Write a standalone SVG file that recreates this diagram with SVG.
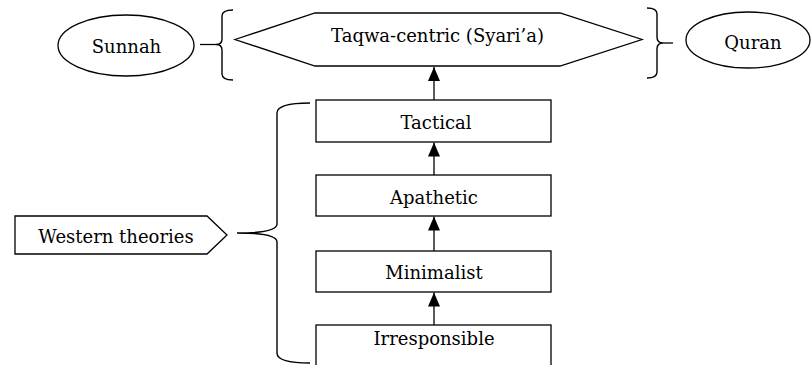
<svg xmlns="http://www.w3.org/2000/svg" width="811" height="365" viewBox="0 0 811 365">
<style>
.s{fill:#fff;stroke:#000;stroke-width:1.3}
.b{fill:none;stroke:#000;stroke-width:1.4}
.l{fill:none;stroke:#000;stroke-width:1.3}
text{font-family:"DejaVu Serif",serif;font-size:18px;fill:#000;text-anchor:middle}
</style>
<defs>
<marker id="ah" markerUnits="userSpaceOnUse" markerWidth="14" markerHeight="12" viewBox="0 0 14 12" refX="14" refY="6" orient="auto">
<path d="M0,0 L14,6 L0,12 Z" fill="#000"/>
</marker>
</defs>
<g id="connectors">
<path class="l" d="M434,100 V67" marker-end="url(#ah)"/>
<path class="l" d="M434,175 V142.5" marker-end="url(#ah)"/>
<path class="l" d="M434,251 V216.5" marker-end="url(#ah)"/>
<path class="l" d="M434,325 V292.5" marker-end="url(#ah)"/>
<path class="l" d="M200,44.5 H216"/>
<path class="l" d="M663,43 H673"/>
</g>
<g id="brace-left-top">
<path class="b" d="M233,10 Q222,10 222,16 L222,39 Q222,44.5 216,44.5 Q222,44.5 222,50 L222,74 Q222,80 233,80"/>
</g>
<g id="brace-right-top">
<path class="b" d="M647,8 Q657,8 657,14 L657,37 Q657,43 663,43 Q657,43 657,49 L657,72 Q657,78 647,78"/>
</g>
<g id="brace-western">
<path class="b" d="M310,103 Q277,103 277,113 L277,224 Q277,233 237,233 Q277,233 277,242 L277,353 Q277,363 310,363"/>
</g>
<g id="sunnah">
<ellipse class="s" cx="126" cy="45.5" rx="68" ry="30.5"/>
<text x="126.5" y="52.5">Sunnah</text>
</g>
<g id="quran">
<ellipse class="s" cx="748" cy="40" rx="62" ry="28"/>
<text x="753" y="49">Quran</text>
</g>
<g id="taqwa">
<polygon class="s" points="235,39.5 315,13 560,13 642,39.5 560,66 315,66"/>
<text x="437.5" y="42">Taqwa-centric (Syari’a)</text>
</g>
<g id="tactical">
<rect class="s" x="316" y="100" width="235" height="42"/>
<text x="436" y="129">Tactical</text>
</g>
<g id="apathetic">
<rect class="s" x="316" y="175" width="235" height="41"/>
<text x="434" y="203.5">Apathetic</text>
</g>
<g id="minimalist">
<rect class="s" x="316" y="251" width="235" height="41"/>
<text x="434" y="279">Minimalist</text>
</g>
<g id="irresponsible">
<rect class="s" x="316" y="325" width="235" height="50"/>
<text x="434" y="345">Irresponsible</text>
</g>
<g id="western">
<polygon class="s" points="15,216 207,216 227,235 207,254 15,254"/>
<text x="116" y="243">Western theories</text>
</g>
</svg>
